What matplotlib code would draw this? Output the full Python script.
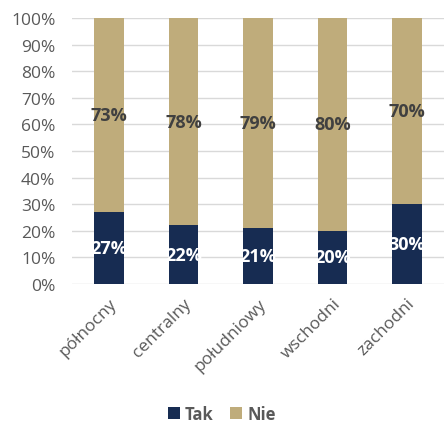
import matplotlib
matplotlib.use("Agg")
import matplotlib.pyplot as plt
import numpy as np

categories = ["północny", "centralny", "południowy", "wschodni", "zachodni"]
tak = [27, 22, 21, 20, 30]
nie = [73, 78, 79, 80, 70]

plt.rcParams['font.family'] = ['Open Sans', 'DejaVu Sans']

fig = plt.figure(figsize=(4.44, 4.27), dpi=100)
ax = fig.add_axes([72/444, 1 - 285/427, 372/444, 266/427])

x = np.arange(len(categories))
c_tak = "#172c52"
c_nie = "#bfac7b"
b1 = ax.bar(x, tak, width=0.4, color=c_tak, label="Tak", zorder=3)
b2 = ax.bar(x, nie, width=0.4, bottom=tak, color=c_nie, label="Nie", zorder=3)

for i in range(len(categories)):
    ax.text(x[i], tak[i] / 2, f"{tak[i]}%", ha="center", va="center",
            color="white", fontsize=13, fontweight="bold", zorder=4)
    ax.text(x[i], tak[i] + nie[i] / 2, f"{nie[i]}%", ha="center", va="center",
            color="#404040", fontsize=13, fontweight="bold", zorder=4)

ax.set_xlim(-0.5, len(categories) - 0.5)
ax.set_ylim(0, 100)
ax.set_yticks(np.arange(0, 101, 10))
ax.set_yticklabels([f"{v}%" for v in range(0, 101, 10)], fontsize=12.5, color="#595959")
ax.set_xticks(x)
ax.set_xticklabels(categories, rotation=45, ha="right", rotation_mode="anchor",
                   fontsize=12.5, color="#595959")
ax.tick_params(axis="both", length=0)
ax.tick_params(axis="y", pad=12)
ax.tick_params(axis="x", pad=8)
ax.grid(axis="y", color="#d9d9d9", linewidth=1, zorder=0)
for s in ax.spines.values():
    s.set_visible(False)

leg = fig.legend(handles=[b1, b2], labels=["Tak", "Nie"], loc="center",
                 bbox_to_anchor=(0.5, 1 - 415/427), ncol=2, frameon=False,
                 handlelength=0.7, handleheight=0.7, handletextpad=0.3,
                 columnspacing=1.0, prop={"size": 12, "weight": "bold"})
for t in leg.get_texts():
    t.set_color("#595959")

fig.savefig("out.png", dpi=100)
